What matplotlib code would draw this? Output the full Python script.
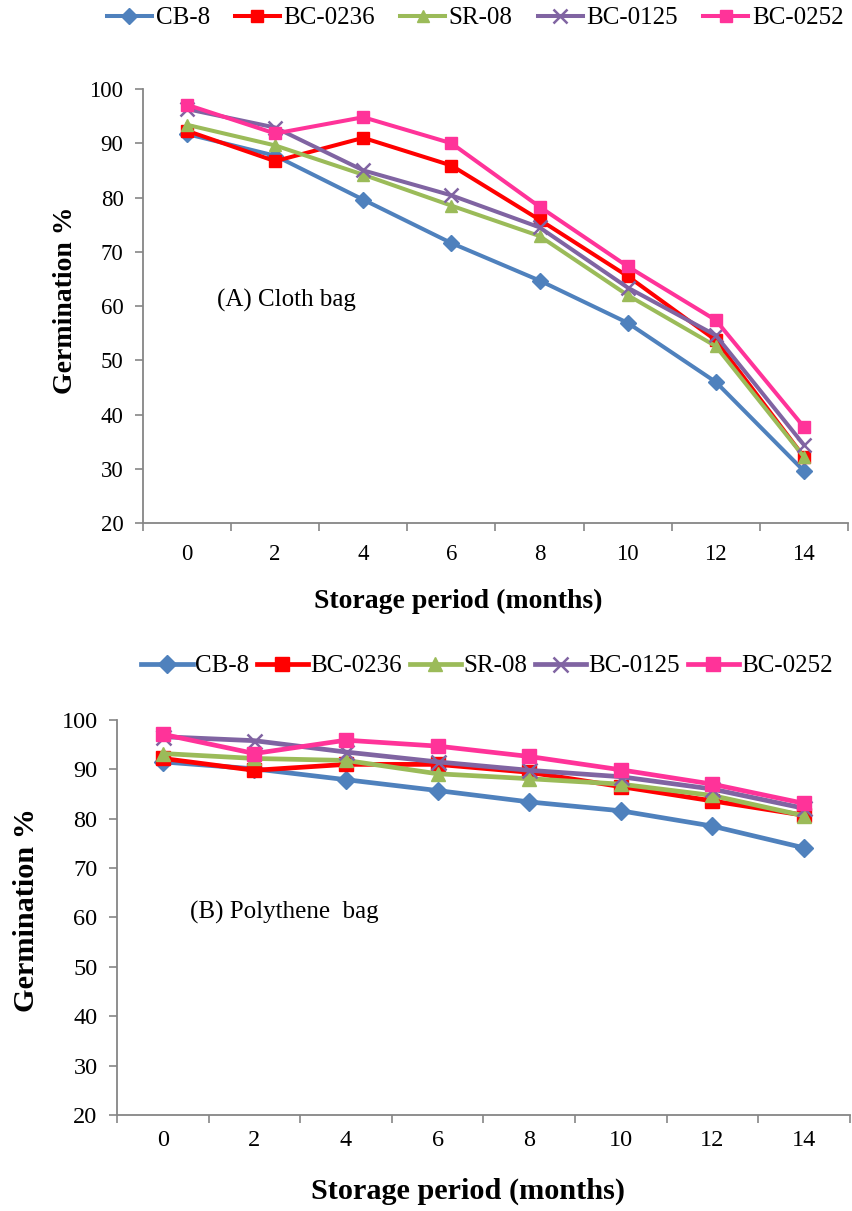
import matplotlib
matplotlib.use("Agg")
import matplotlib.pyplot as plt
from matplotlib.ticker import FixedLocator

plt.rcParams['font.family'] = ['Liberation Serif', 'DejaVu Serif']

months = [0, 2, 4, 6, 8, 10, 12, 14]
varieties = ['CB-8', 'BC-0236', 'SR-08', 'BC-0125', 'BC-0252']

# (A) Cloth bag
cloth_cb8 = [91.7, 87.7, 79.6, 71.6, 64.7, 56.9, 46.0, 29.6]
cloth_bc0236 = [92.3, 86.7, 91.0, 85.9, 75.9, 65.5, 53.7, 32.2]
cloth_sr08 = [93.4, 89.6, 84.2, 78.5, 72.9, 62.0, 52.6, 32.2]
cloth_bc0125 = [96.3, 92.9, 85.0, 80.4, 74.5, 63.4, 54.6, 34.4]
cloth_bc0252 = [97.1, 91.8, 94.8, 90.0, 78.3, 67.3, 57.4, 37.7]

# (B) Polythene bag
poly_cb8 = [91.5, 90.1, 87.9, 85.7, 83.4, 81.6, 78.5, 74.1]
poly_bc0236 = [92.2, 89.8, 91.0, 91.0, 89.4, 86.5, 83.6, 80.7]
poly_sr08 = [93.2, 92.2, 91.8, 89.1, 88.1, 87.0, 84.7, 80.6]
poly_bc0125 = [96.6, 95.8, 93.5, 91.5, 89.8, 88.5, 86.0, 82.1]
poly_bc0252 = [97.1, 93.2, 95.9, 94.7, 92.6, 89.9, 87.0, 83.1]

colors = ['#4F81BD', '#FF0000', '#9BBB59', '#8064A2', '#FF3399']
markers = ['D', 's', '^', 'x', 's']
msizes = [7.5, 8.5, 8.5, 9, 8.5]

fig = plt.figure(figsize=(8.53, 12.11), dpi=100)


def draw_panel(ax, series, label_text, text_xy, tick_fs, xpad, lw, mscale):
    x = range(len(months))
    handles = []
    for vals, name, c, m, ms in zip(series, varieties, colors, markers, msizes):
        h, = ax.plot(x, vals, color=c, marker=m, markersize=ms * mscale, linewidth=lw,
                     markeredgewidth=1.8 if m == 'x' else 1.0, label=name)
        handles.append(h)
    ax.set_xlim(-0.5, len(months) - 0.5)
    ax.set_ylim(20, 100)
    ax.set_yticks(range(20, 101, 10))
    ax.set_xticks(list(x))
    ax.set_xticklabels([str(m) for m in months])
    ax.xaxis.set_minor_locator(FixedLocator([i - 0.5 for i in range(len(months) + 1)]))
    ax.tick_params(axis='x', which='major', length=0, pad=xpad, labelsize=tick_fs)
    ax.tick_params(axis='x', which='minor', length=6, color='#868686', width=1.2)
    ax.tick_params(axis='y', length=6, color='#868686', width=1.2, labelsize=tick_fs, pad=8)
    for s in ['top', 'right']:
        ax.spines[s].set_visible(False)
    for s in ['left', 'bottom']:
        ax.spines[s].set_color('#868686')
        ax.spines[s].set_linewidth(1.3)
    ax.text(text_xy[0], text_xy[1], label_text, fontsize=18, va='center')
    return handles


ax1 = fig.add_axes([0.1676, 0.5681, 0.8265, 0.3584])
h1 = draw_panel(ax1, [cloth_cb8, cloth_bc0236, cloth_sr08, cloth_bc0125, cloth_bc0252],
                '(A) Cloth bag', (0.34, 61.0), 16.5, 15, 2.9, 1.05)
fig.legend(handles=h1, loc='center', bbox_to_anchor=(0.557, 0.985), ncol=5,
           frameon=False, fontsize=18, handlelength=1.8, handletextpad=0.15,
           columnspacing=1.0)
fig.text(0.537, 1 - 601 / 1211, 'Storage period (months)', ha='center', va='center',
         fontsize=20, fontweight='bold')
fig.text(66 / 853, 1 - 300 / 1211, 'Germination %', ha='center', va='center', rotation=90,
         fontsize=20, fontweight='bold')

ax2 = fig.add_axes([0.1372, 0.0793, 0.859, 0.3262])
h2 = draw_panel(ax2, [poly_cb8, poly_bc0236, poly_sr08, poly_bc0125, poly_bc0252],
                '(B) Polythene  bag', (0.30, 61.1), 17.5, 11, 3.4, 1.2)
fig.legend(handles=h2, loc='center', bbox_to_anchor=(0.571, 1 - 666 / 1211), ncol=5,
           frameon=False, fontsize=18, handlelength=2.05, handletextpad=0.1,
           columnspacing=0.3)
fig.text(468 / 853, 1 - 1191 / 1211, 'Storage period (months)', ha='center', va='center',
         fontsize=21.8, fontweight='bold')
fig.text(27 / 853, 1 - 910 / 1211, 'Germination %', ha='center', va='center', rotation=90,
         fontsize=21.8, fontweight='bold')

fig.savefig('out.png', dpi=100)
